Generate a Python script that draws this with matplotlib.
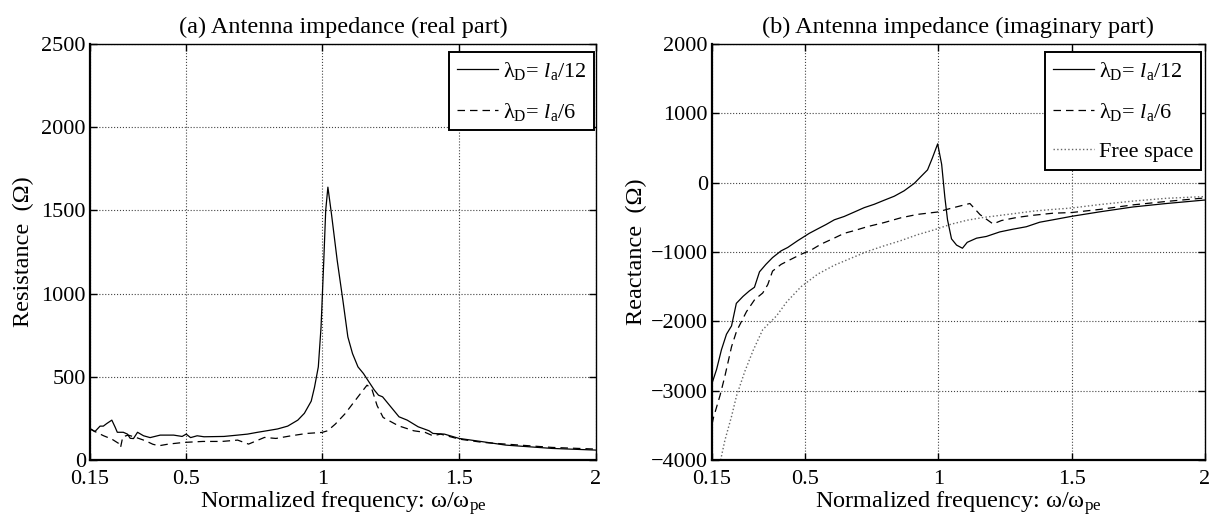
import numpy as np
import matplotlib
matplotlib.use("Agg")
import matplotlib.pyplot as plt

plt.rcParams['font.family'] = ['Liberation Serif', 'DejaVu Serif']
plt.rcParams['mathtext.fontset'] = 'custom'
plt.rcParams['mathtext.rm'] = 'Liberation Serif'
plt.rcParams['mathtext.it'] = 'Liberation Serif:italic'
plt.rcParams['font.size'] = 16

# (a) resistance, lambda_D = l_a/12
res12_x = [0.15, 0.168, 0.187, 0.199, 0.211, 0.23, 0.242, 0.25, 0.272, 0.287, 0.297, 0.309,
           0.324, 0.346, 0.37, 0.407, 0.456, 0.487, 0.502, 0.518, 0.542, 0.567, 0.64, 0.69,
           0.726, 0.763, 0.8, 0.836, 0.873, 0.91, 0.934, 0.959, 0.971, 0.985, 0.995, 1.005,
           1.012, 1.02, 1.033, 1.054, 1.075, 1.093, 1.11, 1.13, 1.15, 1.17, 1.19, 1.205,
           1.22, 1.25, 1.28, 1.31, 1.35, 1.39, 1.404, 1.446, 1.5, 1.587, 1.67, 1.755, 1.84,
           1.92, 2.0]
res12_y = [187, 171, 204, 204, 219, 240, 198, 167, 167, 156, 131, 129,
           167, 146, 135, 150, 150, 142, 156, 135, 146, 140, 142, 150,
           156, 167, 177, 187, 204, 240, 281, 354, 437, 560, 800, 1200,
           1500, 1640, 1480, 1200, 958, 740, 640, 560, 520, 470, 420, 390,
           380, 320, 260, 240, 200, 176, 160, 156, 130, 110, 90, 80, 70,
           65, 60]

# (a) resistance, lambda_D = l_a/6
res6_x = [0.15, 0.17, 0.2, 0.23, 0.255, 0.262, 0.27, 0.29, 0.32, 0.353, 0.38, 0.402, 0.437,
          0.493, 0.563, 0.633, 0.69, 0.73, 0.788, 0.83, 0.886, 0.942, 0.998, 1.019, 1.047,
          1.082, 1.11, 1.138, 1.163, 1.18, 1.2, 1.222, 1.278, 1.334, 1.376, 1.404, 1.432,
          1.5, 1.587, 1.67, 1.755, 1.84, 2.0]
res6_y = [190, 170, 146, 126, 100, 76, 140, 150, 135, 116, 95, 86, 96,
          106, 112, 112, 120, 96, 136, 130, 146, 160, 166, 176, 216,
          277, 337, 397, 450, 430, 327, 256, 206, 176, 166, 146, 156,
          126, 106, 96, 86, 76, 66]

# (b) reactance, lambda_D = l_a/12
rea12_x = [0.15, 0.167, 0.185, 0.204, 0.223, 0.241, 0.266, 0.29, 0.309, 0.328, 0.352, 0.377,
           0.409, 0.434, 0.471, 0.515, 0.546, 0.578, 0.609, 0.646, 0.684, 0.721, 0.759, 0.796,
           0.834, 0.871, 0.909, 0.934, 0.959, 0.977, 0.997, 1.012, 1.024, 1.034, 1.049, 1.068,
           1.09, 1.108, 1.143, 1.18, 1.23, 1.28, 1.33, 1.38, 1.43, 1.5, 1.606, 1.73, 1.856, 2.0]
rea12_y = [-2890, -2690, -2410, -2185, -2065, -1740, -1640, -1560, -1508, -1285, -1178, -1080,
           -983, -934, -837, -730, -667, -603, -535, -487, -423, -360, -311, -253,
           -195, -117, -10, 88, 185, 355, 560, 265, -210, -535, -810, -900,
           -945, -860, -800, -775, -710, -670, -635, -570, -535, -485, -420, -350, -300, -250]

# (b) reactance, lambda_D = l_a/6
rea6_x = [0.15, 0.155, 0.18, 0.198, 0.223, 0.242, 0.279, 0.31, 0.34, 0.359, 0.377, 0.409,
          0.446, 0.484, 0.521, 0.559, 0.609, 0.646, 0.684, 0.734, 0.796, 0.859, 0.921, 0.996,
          1.046, 1.118, 1.156, 1.205, 1.237, 1.296, 1.355, 1.43, 1.5, 1.606, 1.73, 1.856, 2.0]
rea6_y = [-3480, -3390, -3065, -2790, -2365, -2140, -1860, -1685, -1591, -1470, -1275, -1178,
          -1105, -1032, -973, -886, -798, -730, -691, -633, -575, -506, -457, -423,
          -370, -300, -460, -595, -545, -500, -470, -440, -430, -385, -320, -270, -220]

# (b) reactance, free space
free_x = [0.182, 0.198, 0.223, 0.242, 0.273, 0.304, 0.34, 0.392, 0.43, 0.484, 0.546, 0.609,
          0.671, 0.734, 0.796, 0.859, 0.921, 0.984, 1.046, 1.109, 1.171, 1.234, 1.296, 1.355,
          1.415, 1.5, 1.606, 1.73, 1.856, 2.0]
free_y = [-4000, -3715, -3370, -3070, -2720, -2420, -2120, -1920, -1720, -1500, -1320, -1190,
          -1090, -990, -910, -835, -750, -680, -600, -540, -500, -470, -440, -410,
          -390, -365, -315, -265, -225, -200]

xticks = [0.15, 0.5, 1, 1.5, 2]
xticklabels = ['0.15', '0.5', '1', '1.5', '2']
lab12 = '\u03bb$_{\\rm D}$= $l_{\\rm a}$/12'
lab6 = '\u03bb$_{\\rm D}$= $l_{\\rm a}$/6'
label_fs = 17.5

fig = plt.figure(figsize=(12.09, 5.24), dpi=100)
ax1 = fig.add_axes([0.0744, 0.122, 0.4185, 0.794])
ax2 = fig.add_axes([0.589, 0.122, 0.4075, 0.794])

ax1.plot(res12_x, res12_y, 'k-', lw=0.9, label=lab12)
ax1.plot(res6_x, res6_y, 'k--', lw=0.9, dashes=(6, 4), label=lab6)
ax1.set_ylim(0, 2500)
ax1.set_yticks([0, 500, 1000, 1500, 2000, 2500])
ax1.set_ylabel('Resistance  (\u03a9)', fontsize=label_fs, labelpad=5)
ax1.set_title('(a) Antenna impedance (real part)', fontsize=label_fs, pad=8)

ax2.plot(rea12_x, rea12_y, 'k-', lw=0.9, label=lab12)
ax2.plot(rea6_x, rea6_y, 'k--', lw=0.9, dashes=(6, 4), label=lab6)
ax2.plot(free_x, free_y, color='#666666', ls=':', lw=1.0, label='Free space')
ax2.set_ylim(-4000, 2000)
ax2.set_yticks([-4000, -3000, -2000, -1000, 0, 1000, 2000])
ax2.set_yticklabels(['\u22124000', '\u22123000', '\u22122000', '\u22121000', '0', '1000', '2000'])
ax2.set_ylabel('Reactance  (\u03a9)', fontsize=label_fs, labelpad=3)
ax2.set_title('(b) Antenna impedance (imaginary part)', fontsize=label_fs, pad=8)

for ax, dx in ((ax1, 2.0 / 506), (ax2, 4.0 / 493)):
    ax.set_xlim(0.15, 2)
    ax.set_xticks(xticks)
    ax.set_xticklabels(xticklabels)
    ax.set_xlabel('Normalized frequency: \u03c9/\u03c9$_{\\rm pe}$', fontsize=label_fs, labelpad=0)
    ax.grid(True, ls=':', color='#444444', lw=0.8)
    ax.tick_params(direction='in', top=True, right=True, length=5, width=1)
    ax.tick_params(axis='x', pad=7)
    ax.tick_params(axis='y', pad=3)
    for s in ax.spines.values():
        s.set_linewidth(1.0)
    ax.spines['left'].set_linewidth(1.6)
    ax.spines['bottom'].set_linewidth(1.6)
    leg = ax.legend(loc='upper right', bbox_to_anchor=(1 - dx, 1 - 8.0 / 416), borderaxespad=0,
                    fancybox=False, framealpha=1, edgecolor='black',
                    handlelength=1.85, handletextpad=0.2,
                    labelspacing=0.85, borderpad=0.35)
    leg.get_frame().set_linewidth(1.4)

fig.savefig('out.png', dpi=100)
